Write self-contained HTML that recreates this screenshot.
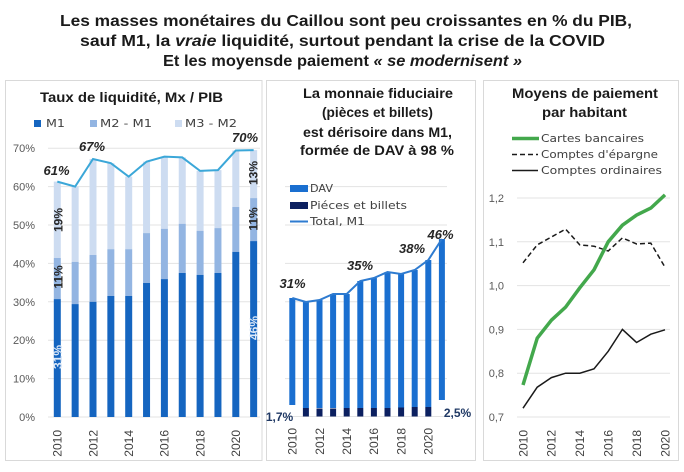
<!DOCTYPE html>
<html><head><meta charset="utf-8"><style>
html,body{margin:0;padding:0;background:#fff;}
svg{display:block;}
text{font-family:"Liberation Sans",Arial,sans-serif;}
.b{font-weight:bold;}
.yl{font-size:11px;fill:#595959;text-anchor:end;}
.xl{font-size:12px;fill:#404040;text-anchor:end;}
.lg{font-family:"DejaVu Sans","Liberation Sans",sans-serif;font-size:11px;fill:#404040;}
.pl{font-size:13px;font-weight:bold;font-style:italic;fill:#262626;text-anchor:middle;}
.rl{font-size:12px;font-weight:bold;fill:#262626;text-anchor:middle;}
.g{stroke:#e3e3e3;stroke-width:1;}
</style></head><body>
<svg width="684" height="472" viewBox="0 0 684 472" xmlns="http://www.w3.org/2000/svg">
<rect width="684" height="472" fill="#fff"/>
<!-- main title -->
<text x="60" y="26" class="b" font-size="15.5" fill="#1a1a1a" textLength="572" lengthAdjust="spacingAndGlyphs">Les masses monétaires du Caillou sont peu croissantes en %  du  PIB,</text>
<text x="80" y="46" class="b" font-size="15.5" fill="#1a1a1a" textLength="525" lengthAdjust="spacingAndGlyphs">sauf M1, la <tspan font-style="italic">vraie</tspan> liquidité, surtout pendant la crise de la COVID</text>
<text x="163" y="66" class="b" font-size="15.5" fill="#1a1a1a" textLength="359" lengthAdjust="spacingAndGlyphs">Et les moyensde paiement   <tspan font-style="italic">« se modernisent »</tspan></text>

<!-- panels -->
<rect x="5.5" y="80.5" width="256.5" height="380" fill="#fff" stroke="#d9d9d9"/>
<rect x="266.5" y="80.5" width="209" height="380" fill="#fff" stroke="#d9d9d9"/>
<rect x="483.5" y="80.5" width="195" height="380" fill="#fff" stroke="#d9d9d9"/>

<!-- LEFT CHART -->
<text x="40" y="102" class="b" font-size="13.5" fill="#1a1a1a" textLength="183" lengthAdjust="spacingAndGlyphs">Taux de liquidité, Mx / PIB</text>
<rect x="34" y="120" width="7" height="7" fill="#1565c0"/>
<text x="46" y="127" class="lg" font-size="12" textLength="19" lengthAdjust="spacingAndGlyphs">M1</text>
<rect x="90" y="120" width="7" height="7" fill="#93b5e2"/>
<text x="100" y="127" class="lg" font-size="12" textLength="52" lengthAdjust="spacingAndGlyphs">M2 - M1</text>
<rect x="175" y="120" width="7" height="7" fill="#cddcf1"/>
<text x="185" y="127" class="lg" font-size="12" textLength="52" lengthAdjust="spacingAndGlyphs">M3 - M2</text>

<g class="g">
<line x1="48" y1="148.2" x2="260" y2="148.2"/>
<line x1="48" y1="186.6" x2="260" y2="186.6"/>
<line x1="48" y1="225" x2="260" y2="225"/>
<line x1="48" y1="263.4" x2="260" y2="263.4"/>
<line x1="48" y1="301.8" x2="260" y2="301.8"/>
<line x1="48" y1="340.2" x2="260" y2="340.2"/>
<line x1="48" y1="378.6" x2="260" y2="378.6"/>
<line x1="48" y1="417" x2="260" y2="417"/>
</g>
<g>
<text x="35" y="152" class="yl">70%</text>
<text x="35" y="190.6" class="yl">60%</text>
<text x="35" y="229" class="yl">50%</text>
<text x="35" y="267.4" class="yl">40%</text>
<text x="35" y="305.8" class="yl">30%</text>
<text x="35" y="344.2" class="yl">20%</text>
<text x="35" y="382.6" class="yl">10%</text>
<text x="35" y="421" class="yl">0%</text>
</g>
<!-- bars: light (M3-M2) -->
<g fill="#cddcf1">
<rect x="53.8" y="181.6" width="7" height="76.4"/>
<rect x="71.65" y="186.6" width="7" height="75.3"/>
<rect x="89.5" y="159" width="7" height="96"/>
<rect x="107.35" y="163.2" width="7" height="86"/>
<rect x="125.2" y="176.6" width="7" height="72.6"/>
<rect x="143.05" y="161.6" width="7" height="71.5"/>
<rect x="160.9" y="156.6" width="7" height="72.2"/>
<rect x="178.75" y="157.4" width="7" height="66.4"/>
<rect x="196.6" y="170.9" width="7" height="59.9"/>
<rect x="214.45" y="170.1" width="7" height="58"/>
<rect x="232.3" y="150.5" width="7" height="56.5"/>
<rect x="250.15" y="150.1" width="7" height="48"/>
</g>
<g fill="#93b5e2">
<rect x="53.8" y="258" width="7" height="41.1"/>
<rect x="71.65" y="261.9" width="7" height="42.2"/>
<rect x="89.5" y="255" width="7" height="46.8"/>
<rect x="107.35" y="249.2" width="7" height="46.8"/>
<rect x="125.2" y="249.2" width="7" height="46.8"/>
<rect x="143.05" y="233.1" width="7" height="49.9"/>
<rect x="160.9" y="228.8" width="7" height="50.3"/>
<rect x="178.75" y="223.8" width="7" height="49.2"/>
<rect x="196.6" y="230.8" width="7" height="44.1"/>
<rect x="214.45" y="228.1" width="7" height="44.9"/>
<rect x="232.3" y="207" width="7" height="44.9"/>
<rect x="250.15" y="198.1" width="7" height="43"/>
</g>
<g fill="#1565c0">
<rect x="53.8" y="299.1" width="7" height="117.9"/>
<rect x="71.65" y="304.1" width="7" height="112.9"/>
<rect x="89.5" y="301.8" width="7" height="115.2"/>
<rect x="107.35" y="296" width="7" height="121"/>
<rect x="125.2" y="296" width="7" height="121"/>
<rect x="143.05" y="283" width="7" height="134"/>
<rect x="160.9" y="279.1" width="7" height="137.9"/>
<rect x="178.75" y="273" width="7" height="144"/>
<rect x="196.6" y="274.9" width="7" height="142.1"/>
<rect x="214.45" y="273" width="7" height="144"/>
<rect x="232.3" y="251.9" width="7" height="165.1"/>
<rect x="250.15" y="241.1" width="7" height="175.9"/>
</g>
<polyline fill="none" stroke="#3ba7d8" stroke-width="2" points="57.3,181.6 75.15,186.6 93,159 110.85,163.2 128.7,176.6 146.55,161.6 164.4,156.6 182.25,157.4 200.1,170.9 217.95,170.1 235.8,150.5 253.65,150.1"/>
<text x="56.5" y="175" class="pl">61%</text>
<text x="92" y="151" class="pl">67%</text>
<text x="245" y="142" class="pl">70%</text>
<text transform="translate(62.5,220) rotate(-90)" class="rl">19%</text>
<text transform="translate(62.5,277) rotate(-90)" class="rl">11%</text>
<text transform="translate(61.8,357) rotate(-90)" class="rl" fill="#dce8f7" style="fill:#dce8f7">31%</text>
<text transform="translate(257.5,173) rotate(-90)" class="rl">13%</text>
<text transform="translate(257.5,219) rotate(-90)" class="rl">11%</text>
<text transform="translate(258,328) rotate(-90)" class="rl" style="fill:#dce8f7">46%</text>
<g>
<text transform="translate(61.6,430) rotate(-90)" class="xl">2010</text>
<text transform="translate(97.3,430) rotate(-90)" class="xl">2012</text>
<text transform="translate(133,430) rotate(-90)" class="xl">2014</text>
<text transform="translate(168.7,430) rotate(-90)" class="xl">2016</text>
<text transform="translate(204.4,430) rotate(-90)" class="xl">2018</text>
<text transform="translate(240.1,430) rotate(-90)" class="xl">2020</text>
</g>

<!-- MIDDLE CHART -->
<g class="b" font-size="13.5" fill="#1a1a1a">
<text x="303" y="98" textLength="150" lengthAdjust="spacingAndGlyphs">La monnaie fiduciaire</text>
<text x="322" y="117" textLength="111" lengthAdjust="spacingAndGlyphs">(pièces et billets)</text>
<text x="303" y="137" textLength="149" lengthAdjust="spacingAndGlyphs">est dérisoire dans M1,</text>
<text x="300" y="155" textLength="154" lengthAdjust="spacingAndGlyphs">formée de DAV à 98 %</text>
</g>
<g class="g">
<line x1="285" y1="186.6" x2="447" y2="186.6"/>
<line x1="285" y1="225" x2="447" y2="225"/>
<line x1="285" y1="263.4" x2="447" y2="263.4"/>
<line x1="285" y1="301.8" x2="447" y2="301.8"/>
<line x1="285" y1="340.2" x2="447" y2="340.2"/>
<line x1="285" y1="378.6" x2="447" y2="378.6"/>
<line x1="285" y1="416.5" x2="447" y2="416.5"/>
</g>
<rect x="290" y="185" width="18" height="7" fill="#1a6fd0"/>
<text x="310" y="192" class="lg" textLength="23" lengthAdjust="spacingAndGlyphs">DAV</text>
<rect x="290" y="202" width="18" height="7" fill="#0c2060"/>
<text x="310" y="209" class="lg" textLength="97" lengthAdjust="spacingAndGlyphs">Piéces et billets</text>
<line x1="290" y1="221.5" x2="308" y2="221.5" stroke="#2e7bd0" stroke-width="2"/>
<text x="310" y="225" class="lg" textLength="55" lengthAdjust="spacingAndGlyphs">Total, M1</text>
<g fill="#1a6fd0">
<rect x="289.3" y="298" width="6" height="107"/>
<rect x="302.9" y="302" width="6" height="106"/>
<rect x="316.5" y="300" width="6" height="108"/>
<rect x="330.1" y="294" width="6" height="114"/>
<rect x="343.7" y="294" width="6" height="114"/>
<rect x="357.3" y="281" width="6" height="127"/>
<rect x="370.9" y="278" width="6" height="130"/>
<rect x="384.5" y="272" width="6" height="136"/>
<rect x="398.1" y="274" width="6" height="134"/>
<rect x="411.7" y="270" width="6" height="137"/>
<rect x="425.3" y="260" width="6" height="147"/>
<rect x="438.9" y="239" width="6" height="161"/>
</g>
<g fill="#0c2060">
<rect x="302.9" y="408" width="6" height="8.5"/>
<rect x="316.5" y="408.5" width="6" height="8"/>
<rect x="330.1" y="408.5" width="6" height="8"/>
<rect x="343.7" y="408" width="6" height="8.5"/>
<rect x="357.3" y="408" width="6" height="8.5"/>
<rect x="370.9" y="408" width="6" height="8.5"/>
<rect x="384.5" y="408" width="6" height="8.5"/>
<rect x="398.1" y="407.5" width="6" height="9"/>
<rect x="411.7" y="407" width="6" height="9.5"/>
<rect x="425.3" y="407" width="6" height="9.5"/>
</g>
<polyline fill="none" stroke="#2e7bd0" stroke-width="2" points="292.3,298 305.9,302 319.5,300 333.1,294 346.7,294 360.3,281 373.9,278 387.5,272 401.1,274 414.7,270 428.3,260 441.9,239"/>
<text x="292.5" y="288" class="pl">31%</text>
<text x="360" y="270" class="pl">35%</text>
<text x="412" y="253" class="pl">38%</text>
<text x="440.5" y="239" class="pl">46%</text>
<text x="279.5" y="421" class="rl" style="fill:#1f3864">1,7%</text>
<text x="457.5" y="417" class="rl" style="fill:#1f3864">2,5%</text>
<g>
<text transform="translate(296.6,428) rotate(-90)" class="xl">2010</text>
<text transform="translate(323.8,428) rotate(-90)" class="xl">2012</text>
<text transform="translate(351,428) rotate(-90)" class="xl">2014</text>
<text transform="translate(378.2,428) rotate(-90)" class="xl">2016</text>
<text transform="translate(405.4,428) rotate(-90)" class="xl">2018</text>
<text transform="translate(432.6,428) rotate(-90)" class="xl">2020</text>
</g>

<!-- RIGHT CHART -->
<text x="512" y="98" class="b" font-size="13.5" fill="#1a1a1a" textLength="146" lengthAdjust="spacingAndGlyphs">Moyens de paiement</text>
<text x="542" y="117" class="b" font-size="13.5" fill="#1a1a1a" textLength="85" lengthAdjust="spacingAndGlyphs">par habitant</text>
<line x1="512" y1="138.5" x2="539" y2="138.5" stroke="#43a84c" stroke-width="3.5"/>
<text x="541" y="142" class="lg" textLength="103" lengthAdjust="spacingAndGlyphs">Cartes bancaires</text>
<line x1="512" y1="154.5" x2="538" y2="154.5" stroke="#1a1a1a" stroke-width="1.5" stroke-dasharray="5,3"/>
<text x="541" y="158" class="lg" textLength="117" lengthAdjust="spacingAndGlyphs">Comptes d'épargne</text>
<line x1="512" y1="170.5" x2="538" y2="170.5" stroke="#1a1a1a" stroke-width="1.5"/>
<text x="541" y="174" class="lg" textLength="121" lengthAdjust="spacingAndGlyphs">Comptes ordinaires</text>
<g class="g">
<line x1="517" y1="198" x2="670" y2="198"/>
<line x1="517" y1="241.8" x2="670" y2="241.8"/>
<line x1="517" y1="285.6" x2="670" y2="285.6"/>
<line x1="517" y1="329.4" x2="670" y2="329.4"/>
<line x1="517" y1="373.2" x2="670" y2="373.2"/>
<line x1="517" y1="417" x2="670" y2="417"/>
</g>
<g>
<text x="504" y="202" class="yl">1,2</text>
<text x="504" y="245.8" class="yl">1,1</text>
<text x="504" y="289.6" class="yl">1,0</text>
<text x="504" y="333.4" class="yl">0,9</text>
<text x="504" y="377.2" class="yl">0,8</text>
<text x="504" y="421" class="yl">0,7</text>
</g>
<polyline fill="none" stroke="#1a1a1a" stroke-width="1.5" stroke-dasharray="5,3" points="523,262.8 537.2,244.9 551.4,237 565.6,229.1 579.8,244.9 594,246.2 608.2,251 622.4,237.9 636.6,244 650.8,243.1 665,267.2"/>
<polyline fill="none" stroke="#1a1a1a" stroke-width="1.5" points="523,408.2 537.2,387.2 551.4,377.6 565.6,373.2 579.8,373.2 594,368.8 608.2,351.3 622.4,329.4 636.6,342.5 650.8,334.2 665,329.8"/>
<polyline fill="none" stroke="#43a84c" stroke-width="3.5" stroke-linejoin="round" points="523,385 537.2,338.2 551.4,320.2 565.6,307.1 579.8,287.8 594,269.8 608.2,241.8 622.4,225.2 636.6,215.1 650.8,208.1 665,194.9"/>
<g>
<text transform="translate(527.3,430) rotate(-90)" class="xl">2010</text>
<text transform="translate(555.7,430) rotate(-90)" class="xl">2012</text>
<text transform="translate(584.1,430) rotate(-90)" class="xl">2014</text>
<text transform="translate(612.5,430) rotate(-90)" class="xl">2016</text>
<text transform="translate(640.9,430) rotate(-90)" class="xl">2018</text>
<text transform="translate(669.3,430) rotate(-90)" class="xl">2020</text>
</g>
</svg>
</body></html>
